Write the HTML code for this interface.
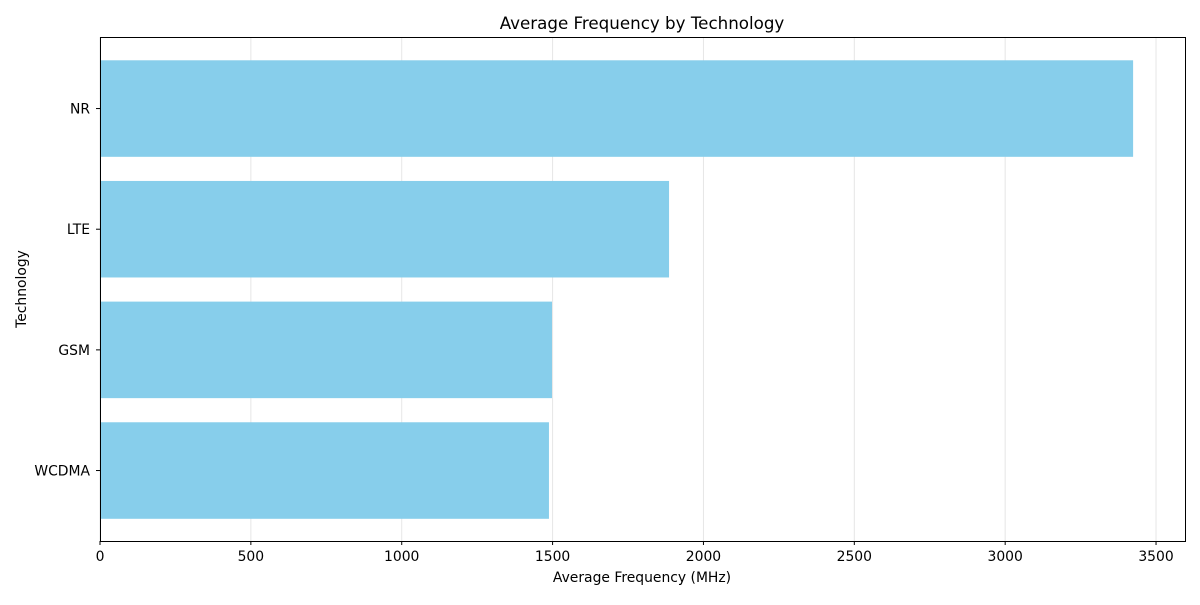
<!DOCTYPE html>
<html><head><meta charset="utf-8"><style>
body{margin:0;background:#fff;font-family:"Liberation Sans","DejaVu Sans",sans-serif;}
svg text{font-family:"DejaVu Sans","Liberation Sans",sans-serif;}
</style></head><body>
<svg id="chart" width="1200" height="600" xmlns="http://www.w3.org/2000/svg">
<g id="grid"></g>
<g id="bars"></g>
<rect x="100.5" y="37.5" width="1085" height="504" fill="none" stroke="#000" stroke-width="1"/>
<g id="xticks"></g>
<g id="yticks"></g>
<text x="642" y="29" font-size="16.7" text-anchor="middle">Average Frequency by Technology</text>
<text x="642" y="582" font-size="13.9" text-anchor="middle">Average Frequency (MHz)</text>
<text x="26" y="289" font-size="13.9" text-anchor="middle" transform="rotate(-90 26 289)">Technology</text>
</svg>
<script>
const categories = ["WCDMA","GSM","LTE","NR"];
const values = [1488, 1498, 1886, 3424];
const xTicks = [0,500,1000,1500,2000,2500,3000,3500];
const NS="http://www.w3.org/2000/svg";
const L=100,R=1185,T=37,B=541,xMax=3596;
const x=v=>L+(v/xMax)*(R-L);
const yMin=-0.584,yMax=3.593;
const y=i=>B-(i-yMin)/(yMax-yMin)*(B-T);
const bw=(B-T)/(yMax-yMin);
function mk(tag,attrs,parent){const e=document.createElementNS(NS,tag);for(const k in attrs)e.setAttribute(k,attrs[k]);parent.appendChild(e);return e;}
const grid=document.getElementById('grid'),bars=document.getElementById('bars'),xt=document.getElementById('xticks'),yt=document.getElementById('yticks');
xTicks.forEach(t=>{
  const g=mk('line',{x1:x(t),x2:x(t),y1:T,y2:B,stroke:'#e6e6e6','stroke-width':1},grid);
  
  
  const tk=mk('line',{x1:x(t),x2:x(t),y1:B,y2:B+4,stroke:'#000'},xt);
  
  
  const tx=mk('text',{x:x(t),y:B+20,'font-size':13.9,'text-anchor':'middle'},xt);
  tx.textContent=t;
  
  
});
categories.forEach((c,i)=>{
  const r=mk('rect',{x:x(0),y:y(i)-0.4*bw,width:x(values[i])-x(0),height:0.8*bw,fill:'#87ceeb'},bars);
  
  
  const tk=mk('line',{x1:L-4,x2:L,y1:y(i),y2:y(i),stroke:'#000'},yt);
  
  
  const tx=mk('text',{x:L-10,y:y(i)+5,'font-size':13.9,'text-anchor':'end'},yt);
  tx.textContent=c;
  
  
});
</script>
</body></html>
